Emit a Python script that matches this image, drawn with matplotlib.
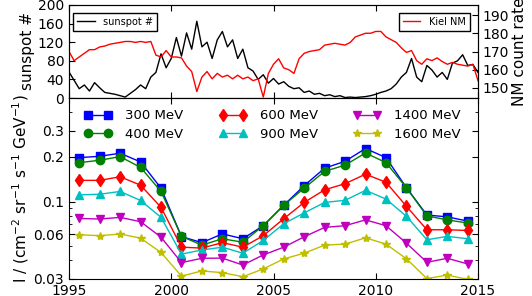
import matplotlib
matplotlib.use('Agg')
import matplotlib.pyplot as plt
import numpy as np
from matplotlib.ticker import FixedLocator, FixedFormatter, NullFormatter

# cosmic ray intensity, yearly means
years = [1995.5, 1996.5, 1997.5, 1998.5, 1999.5, 2000.5, 2001.5, 2002.5, 2003.5, 2004.5,
         2005.5, 2006.5, 2007.5, 2008.5, 2009.5, 2010.5, 2011.5, 2012.5, 2013.5, 2014.5]
i300 = [0.198, 0.202, 0.212, 0.185, 0.123, 0.058, 0.0528, 0.0605, 0.0561, 0.0687,
        0.0944, 0.128, 0.168, 0.187, 0.228, 0.198, 0.124, 0.0811, 0.0788, 0.0738]
i400 = [0.183, 0.190, 0.201, 0.170, 0.117, 0.0582, 0.0508, 0.0561, 0.0531, 0.0687,
        0.0944, 0.123, 0.160, 0.176, 0.213, 0.183, 0.124, 0.080, 0.0752, 0.0716]
i600 = [0.139, 0.139, 0.147, 0.129, 0.0914, 0.0492, 0.0485, 0.0528, 0.0492, 0.0588,
        0.0766, 0.0986, 0.120, 0.132, 0.153, 0.135, 0.0929, 0.0645, 0.0645, 0.0638]
i900 = [0.111, 0.112, 0.117, 0.1017, 0.0782, 0.0442, 0.0471, 0.0492, 0.0448, 0.0546,
        0.0708, 0.0838, 0.0986, 0.102, 0.119, 0.104, 0.0795, 0.0552, 0.0582, 0.0561]
i1400 = [0.0769, 0.0762, 0.0782, 0.0731, 0.0575, 0.0387, 0.0414, 0.0415, 0.0373, 0.0436,
         0.0492, 0.0578, 0.0669, 0.0687, 0.0752, 0.0687, 0.0524, 0.0389, 0.0414, 0.0379]
i1600 = [0.0597, 0.0588, 0.0604, 0.0566, 0.0453, 0.0314, 0.0340, 0.0331, 0.0311, 0.0351,
         0.0410, 0.0448, 0.0508, 0.0516, 0.0569, 0.0516, 0.0411, 0.0302, 0.0319, 0.0298]

# sunspot number and Kiel neutron monitor, quarterly samples 1995.0 .. 2015.0
t_top = [1995 + 0.25 * k for k in range(81)]
sunspot = [56, 38, 20, 28, 15, 33, 22, 12, 10, 8, 5, 2, 10, 18, 28, 20,
           45, 55, 95, 65, 85, 130, 90, 140, 105, 165, 110, 120, 85, 125, 143, 110,
           125, 85, 105, 65, 58, 40, 50, 32, 42, 30, 35, 25, 20, 22, 12, 15,
           8, 10, 5, 7, 3, 5, 1, 2, 1, 2, 3, 5, 8, 12, 15, 20,
           30, 45, 55, 85, 45, 35, 70, 60, 45, 55, 40, 75, 80, 93, 70, 72, 55]
kiel = [170, 165, 167, 169, 171, 171, 172.5, 173, 174, 174.5, 175, 175.5, 175.5, 175, 175.5, 175,
        175.5, 168, 167, 170.5, 167, 167, 166.5, 162, 159, 148, 156, 159, 155, 158, 156, 157,
        155, 157, 155, 156, 154, 155, 145, 158, 163, 166, 161, 160, 158, 166, 169, 170,
        170.5, 171, 173.5, 174, 174.5, 174, 173.5, 175, 178, 179, 180, 180, 181, 181, 178, 176.5,
        175, 172, 169.5, 170.5, 165, 163, 166, 165, 166.5, 164.5, 163, 164, 163, 162.5, 162, 163, 154]

plt.rcParams['xtick.direction'] = 'in'
plt.rcParams['ytick.direction'] = 'in'
plt.rcParams['xtick.major.size'] = 4
plt.rcParams['ytick.major.size'] = 4
plt.rcParams['xtick.minor.size'] = 2
plt.rcParams['ytick.minor.size'] = 2
plt.rcParams['font.size'] = 10

fig = plt.figure(figsize=(5.32, 2.96), dpi=100)
L, R = 69 / 532, 478 / 532
ax1 = fig.add_axes([L, 1 - 98 / 296, R - L, 93 / 296])
ax2 = fig.add_axes([L, 1 - 279 / 296, R - L, 181 / 296], sharex=ax1)

ax1.plot(t_top, sunspot, color='k', lw=1, label='sunspot #')
ax1.set_ylim(0, 200)
ax1.set_yticks([0, 40, 80, 120, 160, 200])
ax1.set_ylabel('sunspot #', fontsize=11, labelpad=2)
ax1.tick_params(axis='x', top=True, labelbottom=False)
ax1.legend(loc='upper left', bbox_to_anchor=(0.0105, 0.914), borderaxespad=0,
           fontsize=7, fancybox=False, edgecolor='k', framealpha=1,
           handlelength=1.8, handletextpad=0.9)

ax1r = ax1.twinx()
ax1r.plot(t_top, kiel, color='r', lw=1, label='Kiel NM')
ax1r.set_ylim(144.5, 195.5)
ax1r.set_yticks([150, 160, 170, 180, 190])
ax1r.set_ylabel('NM count rate', fontsize=11, labelpad=2)
ax1r.legend(loc='upper right', bbox_to_anchor=(0.980, 0.914), borderaxespad=0,
            fontsize=7, fancybox=False, edgecolor='k', framealpha=1,
            handlelength=1.8, handletextpad=0.9)

series = [(i300, 'b', 's', '300 MeV'), (i400, 'g', 'o', '400 MeV'),
          (i600, 'r', 'd', '600 MeV'), (i900, 'c', '^', '900 MeV'),
          (i1400, 'm', 'v', '1400 MeV'), (i1600, 'y', '*', '1600 MeV')]
for vals, c, m, lab in series:
    ax2.plot(years, vals, color=c, marker=m, ms=6, lw=1, mec=c, label=lab)

ax2.set_yscale('log')
ax2.set_ylim(0.03, 0.5)
ax2.yaxis.set_major_locator(FixedLocator([0.03, 0.06, 0.1, 0.2, 0.3]))
ax2.yaxis.set_major_formatter(FixedFormatter(['0.03', '0.06', '0.1', '0.2', '0.3']))
ax2.yaxis.set_minor_formatter(NullFormatter())
ax2.set_xlim(1995, 2015)
ax2.set_xticks([1995, 2000, 2005, 2010, 2015])
ax2.tick_params(axis='both', which='both', top=True, right=True)
ax2.set_ylabel('I / (cm$^{-2}$ sr$^{-1}$ s$^{-1}$ GeV$^{-1}$)', fontsize=11, labelpad=2)
ax2.legend(loc='upper left', bbox_to_anchor=(0.024, 0.967), borderaxespad=0,
           ncol=3, frameon=False, fontsize=9.5, numpoints=2,
           handlelength=2.1, handletextpad=1.0, labelspacing=0.4, columnspacing=2.7)

fig.savefig('out.png', dpi=100)
